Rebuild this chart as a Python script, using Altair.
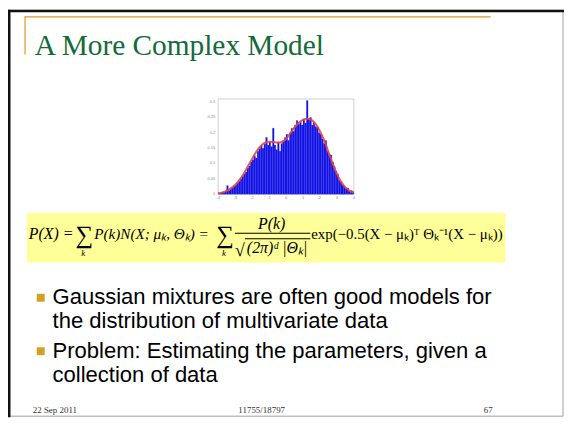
import altair as alt
import pandas as pd

# ---------------- data ----------------
bin_lo = [round(-4.0 + 0.1 * i, 2) for i in range(80)]
bar_vals = [
    0.002, 0.004, 0.005, 0.006, 0.010, 0.028, 0.012, 0.018, 0.022, 0.026,
    0.030, 0.038, 0.042, 0.050, 0.058, 0.066, 0.072, 0.085, 0.092, 0.105,
    0.112, 0.125, 0.118, 0.140, 0.148, 0.158, 0.150, 0.163, 0.185, 0.160,
    0.170, 0.155, 0.215, 0.160, 0.145, 0.170, 0.140, 0.165, 0.175, 0.185,
    0.195, 0.175, 0.200, 0.215, 0.205, 0.225, 0.240, 0.228, 0.235, 0.225,
    0.245, 0.232, 0.305, 0.245, 0.250, 0.225, 0.235, 0.220, 0.218, 0.200,
    0.195, 0.180, 0.165, 0.175, 0.140, 0.130, 0.128, 0.105, 0.090, 0.075,
    0.065, 0.045, 0.040, 0.030, 0.025, 0.018, 0.020, 0.010, 0.012, 0.008,
]
curve_x = [-4.0, -3.75, -3.5, -3.25, -3.0, -2.75, -2.5, -2.25, -2.0, -1.75,
           -1.5, -1.25, -1.0, -0.75, -0.5, -0.25, 0.0, 0.25, 0.5, 0.75,
           1.0, 1.25, 1.5, 1.75, 2.0, 2.25, 2.5, 2.75, 3.0, 3.25, 3.5, 3.75, 4.0]
curve_y = [0.003, 0.006, 0.011, 0.019, 0.030, 0.046, 0.066, 0.090, 0.115, 0.138,
           0.156, 0.167, 0.171, 0.170, 0.168, 0.170, 0.180, 0.198, 0.218, 0.233,
           0.242, 0.246, 0.242, 0.228, 0.205, 0.175, 0.138, 0.100, 0.066, 0.040,
           0.022, 0.011, 0.005]
x_ticks = [-4, -3, -2, -1, 0, 1, 2, 3, 4]
y_ticks = [0, 0.05, 0.1, 0.15, 0.2, 0.25, 0.3]
y_tick_labels = ["0", "0.05", "0.1", "0.15", "0.2", "0.25", "0.3"]

title_text = "A More Complex Model"
bullets = [
    ["Gaussian mixtures are often good models for", "the distribution of multivariate data"],
    ["Problem: Estimating the parameters, given a", "collection of data"],
]
footer_left = "22 Sep 2011"
footer_mid = "11755/18797"
footer_right = "67"

W, H = 561, 411
XS = alt.Scale(domain=[-4, 4], range=[212, 349], nice=False, zero=False)
YS = alt.Scale(domain=[0, 0.31], range=[186, 90], nice=False, zero=False)

one = pd.DataFrame({"a": [0]})


def txt(s, x, y, size, font="Liberation Serif", color="#000", style="normal", align="left"):
    return alt.Chart(pd.DataFrame({"t": [s]})).mark_text(
        font=font, fontSize=size, color=color, fontStyle=style, align=align,
        baseline="alphabetic"
    ).encode(text="t:N", x=alt.value(x), y=alt.value(y))


def rect(x, x2, y, y2, fill, stroke=None, sw=0):
    kw = dict(fill=fill)
    if stroke:
        kw.update(stroke=stroke, strokeWidth=sw)
    return alt.Chart(one).mark_rect(**kw).encode(
        x=alt.value(x), x2=alt.value(x2), y=alt.value(y), y2=alt.value(y2))


layers = []
# slide frame
layers.append(rect(0.5, 560, 0.5, 410, "white", "#a0a0a0", 1))
layers.append(rect(0, 2.5, 0, 411, "#111"))
layers.append(rect(0, 561, 0, 2.5, "#111"))
# orange accent lines
orange = "#D99A1E"
layers.append(rect(17, 487, 6.6, 7.8, orange))
layers.append(rect(16.6, 17.8, 6.6, 45, orange))
# title
layers.append(txt(title_text, 27, 46, 29.6, color="#126B3A"))

# histogram
hist_df = pd.DataFrame({"lo": bin_lo, "hi": [b + 0.1 for b in bin_lo], "v": bar_vals,
                        "z": [0.0] * len(bin_lo)})
layers.append(alt.Chart(pd.DataFrame({"x0": [-4.0], "x1": [4.0], "y0": [0.0], "y1": [0.31]}))
              .mark_rect(fill="white", stroke="#c4c4c4", strokeWidth=0.8)
              .encode(x=alt.X("x0:Q", scale=XS, axis=None), x2="x1:Q",
                      y=alt.Y("y0:Q", scale=YS, axis=None), y2="y1:Q"))
layers.append(alt.Chart(hist_df).mark_rect(fill="#1212E6", stroke="#2a2ae0", strokeWidth=0.2)
              .encode(x=alt.X("lo:Q", scale=XS, axis=None), x2="hi:Q",
                      y=alt.Y("v:Q", scale=YS, axis=None), y2="z:Q"))
layers.append(alt.Chart(pd.DataFrame({"cx": curve_x, "cy": curve_y}))
              .mark_line(color="#E8453C", strokeWidth=2, interpolate="monotone", opacity=0.9)
              .encode(x=alt.X("cx:Q", scale=XS, axis=None), y=alt.Y("cy:Q", scale=YS, axis=None)))
layers.append(alt.Chart(pd.DataFrame({"tx": x_ticks, "lab": [str(t) for t in x_ticks]}))
              .mark_text(fontSize=4, color="#888", baseline="top", font="Liberation Sans")
              .encode(x=alt.X("tx:Q", scale=XS, axis=None), y=alt.value(188), text="lab:N"))
layers.append(alt.Chart(pd.DataFrame({"ty": y_ticks, "lab": y_tick_labels}))
              .mark_text(fontSize=4, color="#888", align="right", baseline="middle", font="Liberation Sans")
              .encode(y=alt.Y("ty:Q", scale=YS, axis=None), x=alt.value(209), text="lab:N"))

# formula box
layers.append(rect(19, 502, 205, 255, "#FFFF99"))
layers.append(txt("P(X) =", 21, 231.5, 16, style="italic"))
layers.append(txt("\u2211", 68, 235, 25))
layers.append(txt("k", 76, 248.5, 9, style="italic", align="center"))
layers.append(txt("P(k)N(X; \u03bc\u2096, \u0398\u2096) =", 87, 231.5, 15.3, style="italic"))
layers.append(txt("\u2211", 210, 235, 25))
layers.append(txt("k", 218, 248.5, 9, style="italic", align="center"))
layers.append(txt("P(k)", 266, 221, 16, style="italic", align="center"))
layers.append(rect(229, 305, 225, 226, "#000"))
layers.append(txt("\u221a", 229, 248, 18))
layers.append(rect(239, 305, 230.5, 231.5, "#000"))
layers.append(txt("(2\u03c0)\u1d48 |\u0398\u2096|", 241, 245, 16, style="italic"))
layers.append(txt("exp(\u22120.5(X \u2212 \u03bc\u2096)\u1d40 \u0398\u2096\u207b\u00b9(X \u2212 \u03bc\u2096))", 306, 231.5, 15))

# bullets
baselines = [[297, 321], [351, 376]]
for lines, bl in zip(bullets, baselines):
    layers.append(rect(29, 37, bl[0] - 10.5, bl[0] - 2.5, "#D4A021"))
    for ln, yb in zip(lines, bl):
        layers.append(txt(ln, 45, yb, 22.2, font="Liberation Sans", color="#000"))

# footer
layers.append(txt(footer_left, 25, 407, 9, color="#333"))
layers.append(txt(footer_mid, 256, 407, 9, color="#333", align="center"))
layers.append(txt(footer_right, 489, 407, 9, color="#333", align="right"))

chart = alt.layer(*layers).properties(
    width=W, height=H, padding=0, autosize=alt.AutoSizeParams(type="none")
).configure_view(stroke=None)

chart.save("out.html", embed_options={"renderer": "svg", "actions": False})
